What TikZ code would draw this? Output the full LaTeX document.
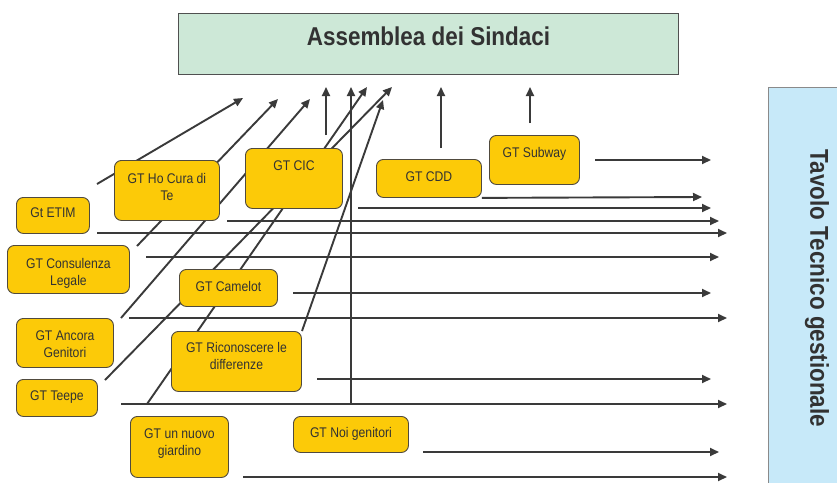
\documentclass[tikz,border=0pt]{standalone}
\usepackage{fontspec}
\setmainfont{Liberation Sans}[FakeStretch=0.87]
\usetikzlibrary{arrows.meta,backgrounds}
\definecolor{gtyellow}{RGB}{252,202,8}
\definecolor{gtborder}{RGB}{80,74,62}
\definecolor{linegray}{RGB}{58,58,58}
\definecolor{textgray}{RGB}{50,50,50}
\definecolor{assgreen}{RGB}{205,232,215}
\definecolor{assborder}{RGB}{80,80,80}
\definecolor{tavblue}{RGB}{199,233,249}
\definecolor{tavborder}{RGB}{138,138,138}
\newcommand{\twolines}[2]{\begin{tabular}[t]{@{}c@{}}#1\\#2\end{tabular}}
\begin{document}
\begin{tikzpicture}[x=1pt,y=-1pt,
  gtbox/.style={draw=gtborder, fill=gtyellow, rounded corners=7pt, line width=0.9pt,
    inner sep=0pt, anchor=north west, text=textgray, font=\fontsize{14}{17}\selectfont},
  conn/.style={draw=linegray, line width=1.9pt, -{Triangle[length=9pt,width=8pt]}},
  bigtitle/.style={text=textgray, font=\bfseries\fontsize{25.8}{30}\selectfont, inner sep=0pt}]
\useasboundingbox (0,0) rectangle (837,482);

% top and side boxes
\node[bigtitle, draw=assborder, fill=assgreen, line width=1pt, anchor=north west,
  minimum width=500pt, text height=32pt, text depth=29pt] (ass) at (178,13) {Assemblea dei Sindaci};
\node[bigtitle, draw=tavborder, fill=tavblue, line width=1pt, rotate=-90,
  minimum width=403pt, minimum height=98pt] (tav) at (817,288.5) {Tavolo Tecnico gestionale};

% working groups
\node[gtbox, minimum width=73pt,  text height=20.5pt, text depth=15.5pt] (etim) at (16,197) {Gt ETIM};
\node[gtbox, minimum width=105pt, text height=22.7pt, text depth=37.3pt] (hocura) at (114,160) {\twolines{GT Ho Cura di}{Te}};
\node[gtbox, minimum width=97pt,  text height=22pt, text depth=38pt] (cic) at (245,148) {GT CIC};
\node[gtbox, minimum width=105pt, text height=22pt, text depth=16pt] (cdd) at (376,159) {GT CDD};
\node[gtbox, minimum width=90pt,  text height=22pt, text depth=27pt] (subway) at (489,135) {GT Subway};
\node[gtbox, minimum width=122pt, text height=22.7pt, text depth=25.3pt] (consulenza) at (7,245) {\twolines{GT Consulenza}{Legale}};
\node[gtbox, minimum width=98pt,  text height=22pt, text depth=15pt] (camelot) at (179,269) {GT Camelot};
\node[gtbox, minimum width=97pt,  text height=22pt, text depth=27pt] (ancora) at (16,318) {\twolines{GT Ancora}{Genitori}};
\node[gtbox, minimum width=130pt, text height=20.7pt, text depth=39.3pt] (riconoscere) at (171,331) {\twolines{GT Riconoscere le}{differenze}};
\node[gtbox, minimum width=81pt,  text height=21pt, text depth=16pt] (teepe) at (16,379) {GT Teepe};
\node[gtbox, minimum width=98pt,  text height=22.3pt, text depth=38.7pt] (giardino) at (130,416) {\twolines{GT un nuovo}{giardino}};
\node[gtbox, minimum width=115pt, text height=20.7pt, text depth=15.3pt] (noi) at (293,416) {GT Noi genitori};

% connector end points
\coordinate (a0) at (97,184);   \coordinate (a1) at (243,98);
\coordinate (b0) at (137,246);  \coordinate (b1) at (278,99);
\coordinate (c0) at (121,318);  \coordinate (c1) at (310,99);
\coordinate (d0) at (105,380);  \coordinate (d1) at (392,87);
\coordinate (e0) at (147,404);  \coordinate (e1) at (367,87);
\coordinate (f0) at (302,331);  \coordinate (f1) at (383,100);
\coordinate (v10) at (326,135); \coordinate (v11) at (326,87);
\coordinate (v20) at (351,404); \coordinate (v21) at (351,87);
\coordinate (v30) at (441,148); \coordinate (v31) at (441,87);
\coordinate (v40) at (530,123); \coordinate (v41) at (530,87);
\coordinate (h10) at (595,160); \coordinate (h11) at (711,160);
\coordinate (h30) at (358,208); \coordinate (h31) at (711,208);
\coordinate (h40) at (227,221); \coordinate (h41) at (719,221);
\coordinate (h50) at (97,233);  \coordinate (h51) at (727,233);
\coordinate (h60) at (146,257); \coordinate (h61) at (719,257);
\coordinate (h70) at (293,293); \coordinate (h71) at (711,293);
\coordinate (h80) at (129,318); \coordinate (h81) at (727,318);
\coordinate (h90) at (317,379); \coordinate (h91) at (711,379);
\coordinate (ha0) at (121,404); \coordinate (ha1) at (727,404);
\coordinate (hb0) at (423,452); \coordinate (hb1) at (719,452);
\coordinate (hc0) at (243,477); \coordinate (hc1) at (727,477);
\coordinate (h21) at (702,197);

\begin{pgfonlayer}{background}
\fill[white] (0,0) rectangle (837,482);
% diagonal connectors to the Assemblea
\draw[conn] (a0) -- (a1);
\draw[conn] (b0) -- (b1);
\draw[conn] (c0) -- (c1);
\draw[conn] (d0) -- (d1);
\draw[conn] (e0) -- (e1);
\draw[conn] (f0) -- (f1);
% vertical connectors
\draw[conn] (v10) -- (v11);
\draw[conn] (v20) -- (v21);
\draw[conn] (v30) -- (v31);
\draw[conn] (v40) -- (v41);
% horizontal connectors to the Tavolo
\draw[conn] (h10) -- (h11);
\draw[conn] (cdd.south east) -- (h21);
\draw[conn] (h30) -- (h31);
\draw[conn] (h40) -- (h41);
\draw[conn] (h50) -- (h51);
\draw[conn] (h60) -- (h61);
\draw[conn] (h70) -- (h71);
\draw[conn] (h80) -- (h81);
\draw[conn] (h90) -- (h91);
\draw[conn] (ha0) -- (ha1);
\draw[conn] (hb0) -- (hb1);
\draw[conn] (hc0) -- (hc1);
\end{pgfonlayer}
\end{tikzpicture}
\end{document}
